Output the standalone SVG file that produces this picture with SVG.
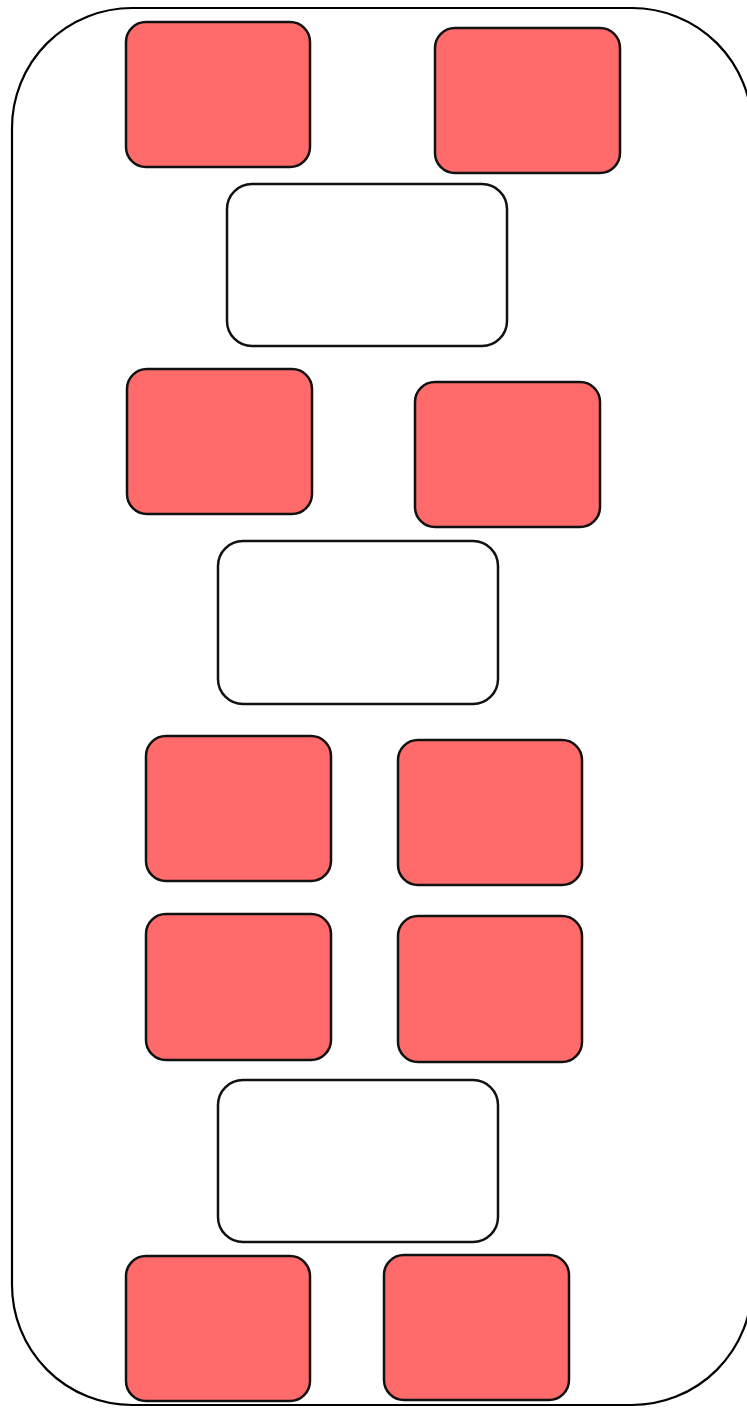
<svg xmlns="http://www.w3.org/2000/svg" width="747" height="1408" viewBox="0 0 747 1408">
<style>
.outer{fill:#fff;stroke:#000;stroke-width:2.2}
.red{fill:#ff6b6b;stroke:#111;stroke-width:2.5}
.white{fill:#fff;stroke:#111;stroke-width:2.5}
</style>
<rect width="747" height="1408" fill="#fff"/>
<g id="container"><rect class="outer" x="12" y="8" width="740" height="1397" rx="120" ry="120"/></g>
<g id="n1"><rect class="red" x="126" y="22" width="184" height="145" rx="20"/></g>
<g id="n2"><rect class="red" x="435" y="28" width="185" height="145" rx="20"/></g>
<g id="w1"><rect class="white" x="227" y="184" width="280" height="162" rx="25"/></g>
<g id="n3"><rect class="red" x="127" y="369" width="185" height="145" rx="20"/></g>
<g id="n4"><rect class="red" x="415" y="382" width="185" height="145" rx="20"/></g>
<g id="w2"><rect class="white" x="218" y="541" width="280" height="163" rx="25"/></g>
<g id="n5"><rect class="red" x="146" y="736" width="185" height="145" rx="20"/></g>
<g id="n6"><rect class="red" x="398" y="740" width="184" height="145" rx="20"/></g>
<g id="n7"><rect class="red" x="146" y="914" width="185" height="146" rx="20"/></g>
<g id="n8"><rect class="red" x="398" y="916" width="184" height="146" rx="20"/></g>
<g id="w3"><rect class="white" x="218" y="1080" width="280" height="162" rx="25"/></g>
<g id="n9"><rect class="red" x="126" y="1256" width="184" height="145" rx="20"/></g>
<g id="n10"><rect class="red" x="384" y="1255" width="185" height="145" rx="20"/></g>
<g id="connectors"></g>
</svg>
